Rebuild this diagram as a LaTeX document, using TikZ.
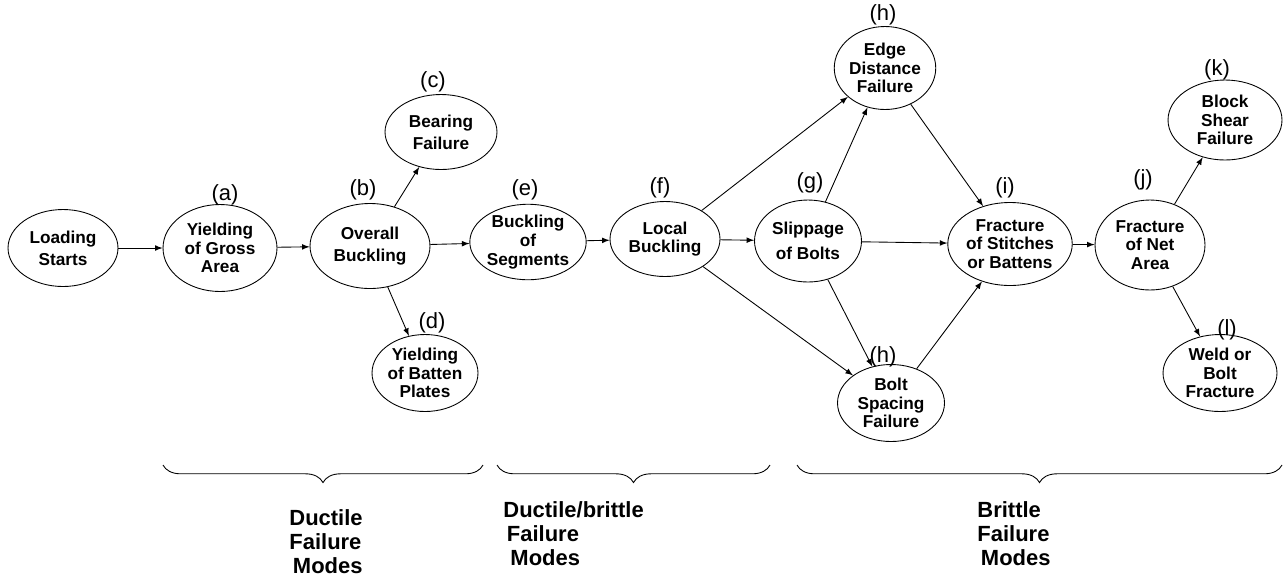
\documentclass[tikz,border=0pt]{standalone}
\usepackage{fontspec}
\setmainfont{Liberation Sans}
\usetikzlibrary{arrows}
\usetikzlibrary{shapes.geometric}
\usetikzlibrary{decorations.pathreplacing}
\tikzset{mode/.style={draw, ellipse, inner sep=0pt, align=center,
  font=\bfseries\fontsize{9.8}{10.6}\selectfont}}
\tikzset{tag/.style={inner sep=0pt, font=\fontsize{12.5}{13}\selectfont}}
\tikzset{group/.style={decorate, decoration={brace, mirror, amplitude=10pt}}}
\tikzset{groupname/.style={inner sep=0pt, anchor=north west, align=left,
  font=\bfseries\fontsize{12.5}{13.6}\selectfont}}

\begin{document}
\begin{tikzpicture}[x=0.02cm, y=-0.02cm, >=latex, line width=0.5pt]
      \useasboundingbox (0, 0) rectangle (1284, 579);

      \node [mode, minimum width=2.2cm, minimum height=1.54cm] (start) at (63, 248) {Loading\\[2pt]Starts};
      \node [mode, minimum width=2.28cm, minimum height=1.74cm] (a) at (220, 248) {Yielding\\of Gross\\Area};
      \node [mode, minimum width=2.4cm, minimum height=1.7cm] (b) at (370, 246) {Overall\\[2pt]Buckling};
      \node [mode, minimum width=2.24cm, minimum height=1.5cm] (c) at (441, 132) {Bearing\\[2pt]Failure};
      \node [mode, minimum width=2.12cm, minimum height=1.54cm] (d) at (425, 373) {Yielding\\of Batten\\Plates};
      \node [mode, minimum width=2.26cm, minimum height=1.5cm] (e) at (528, 242) {Buckling\\of\\Segments};
      \node [mode, minimum width=2.2cm, minimum height=1.5cm] (f) at (665, 239) {Local\\Buckling};
      \node [mode, minimum width=2.14cm, minimum height=1.64cm] (g) at (808, 241) {Slippage\\[4pt]of Bolts};
      \node [mode, minimum width=2.0cm, minimum height=1.66cm] (h1) at (885, 68) {Edge\\Distance\\Failure};
      \node [mode, minimum width=2.14cm, minimum height=1.54cm] (h2) at (891, 403) {Bolt\\Spacing\\Failure};
      \node [mode, minimum width=2.2cm, minimum height=1.66cm] (i) at (1010, 244) {Fracture\\of Stitches\\or Battens};
      \node [mode, minimum width=2.2cm, minimum height=1.8cm] (j) at (1150, 245) {Fracture\\of Net\\Area};
      \node [mode, minimum width=2.28cm, minimum height=1.6cm] (k) at (1225, 120) {Block\\Shear\\Failure};
      \node [mode, minimum width=2.28cm, minimum height=1.54cm] (l) at (1220, 373) {Weld or\\Bolt\\Fracture};

      \node [tag] (ta) at (225, 195) {(a)};
      \node [tag] (tb) at (363, 190) {(b)};
      \node [tag] (tc) at (433, 82) {(c)};
      \node [tag] (td) at (432, 323) {(d)};
      \node [tag] (te) at (525, 190) {(e)};
      \node [tag] (tf) at (660, 188) {(f)};
      \node [tag] (tg) at (810, 183) {(g)};
      \node [tag] (th1) at (883, 15) {(h)};
      \node [tag] (th2) at (883, 357) {(h)};
      \node [tag] (ti) at (1005, 188) {(i)};
      \node [tag] (tj) at (1143, 180) {(j)};
      \node [tag] (tk) at (1217, 70) {(k)};
      \node [tag] (tl) at (1227, 330) {(l)};

      \draw [->] (start) -- (a);
      \draw [->] (a) -- (b);
      \draw [->] (b) -- (c);
      \draw [->] (b) -- (d);
      \draw [->] (b) -- (e);
      \draw [->] (e) -- (f);
      \draw [->] (f) -- (h1);
      \draw [->] (f) -- (g);
      \draw [->] (f) -- (h2);
      \draw [->] (g) -- (h1);
      \draw [->] (g) -- (h2);
      \draw [->] (g) -- (i);
      \draw [->] (h1) -- (i);
      \draw [->] (h2) -- (i);
      \draw [->] (i) -- (j);
      \draw [->] (j) -- (k);
      \draw [->] (j) -- (l);

      \draw [group] (163, 465) -- (483, 465);
      \draw [group] (497, 465) -- (770, 465);
      \draw [group] (797, 465) -- (1282, 465);

      \node [groupname] (ductile) at (289, 509) {Ductile\\Failure\\\hspace*{2pt}Modes};
      \node [groupname] (mixed) at (503, 501) {Ductile/brittle\\\hspace*{2pt}Failure\\\hspace*{4pt}Modes};
      \node [groupname] (brittle) at (977, 501) {Brittle\\Failure\\\hspace*{2pt}Modes};
    \end{tikzpicture}
\end{document}
